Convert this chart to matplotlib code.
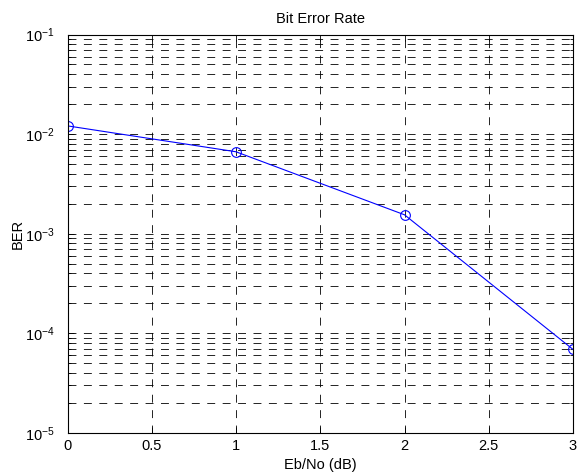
import matplotlib
matplotlib.use("Agg")
import matplotlib.pyplot as plt
from matplotlib.ticker import LogLocator, NullFormatter

ebno = [0, 1, 2, 3]
ber = [0.0121, 0.00665, 0.00155, 6.9e-5]
xticks = [0, 0.5, 1, 1.5, 2, 2.5, 3]
xticklabels = ["0", "0.5", "1", "1.5", "2", "2.5", "3"]

plt.rcParams['font.family'] = ['Liberation Sans', 'DejaVu Sans']
plt.rcParams['mathtext.fontset'] = 'custom'
plt.rcParams['mathtext.rm'] = 'Liberation Sans'
plt.rcParams['mathtext.it'] = 'Liberation Sans:italic'
plt.rcParams['mathtext.bf'] = 'Liberation Sans:bold'

FS = 10.5
DASH = (0, (9.5, 9))

fig = plt.figure(figsize=(5.82, 4.74), dpi=100)
ax = fig.add_axes([67.5/582, 1 - 433/474, (573-67.5)/582, (433-34.5)/474])

ax.semilogy(ebno, ber, color='#0000ff', linewidth=0.8, marker='o',
            markersize=7, markerfacecolor='none', markeredgecolor='#0000ff',
            markeredgewidth=0.8)
ax.set_xlim(0, 3)
ax.set_ylim(1e-5, 1e-1)
ax.set_xticks(xticks)
ax.set_xticklabels(xticklabels)
ax.yaxis.set_major_locator(LogLocator(base=10, numticks=10))
ax.yaxis.set_minor_locator(LogLocator(base=10, subs=range(2, 10), numticks=20))
ax.yaxis.set_minor_formatter(NullFormatter())

ax.grid(True, which='major', color='black', linestyle=DASH, linewidth=0.6)
ax.grid(True, which='minor', axis='y', color='black', linestyle=DASH, linewidth=0.6)

ax.tick_params(which='both', direction='in', top=True, right=True, labelsize=FS,
               length=4, width=0.6)
ax.tick_params(axis='x', pad=4)
ax.tick_params(axis='y', pad=9)
ax.tick_params(which='minor', length=2.5)
for s in ax.spines.values():
    s.set_linewidth(0.8)

ax.set_title('Bit Error Rate', fontsize=FS, pad=8)
ax.set_xlabel('Eb/No (dB)', fontsize=FS)
ax.set_ylabel('BER', fontsize=FS)
ax.xaxis.set_label_coords(0.5, (433 - 458) / 398.5)
ax.yaxis.set_label_coords((25 - 67.5) / 505.5, 0.5)

fig.savefig('out.png', dpi=100)
